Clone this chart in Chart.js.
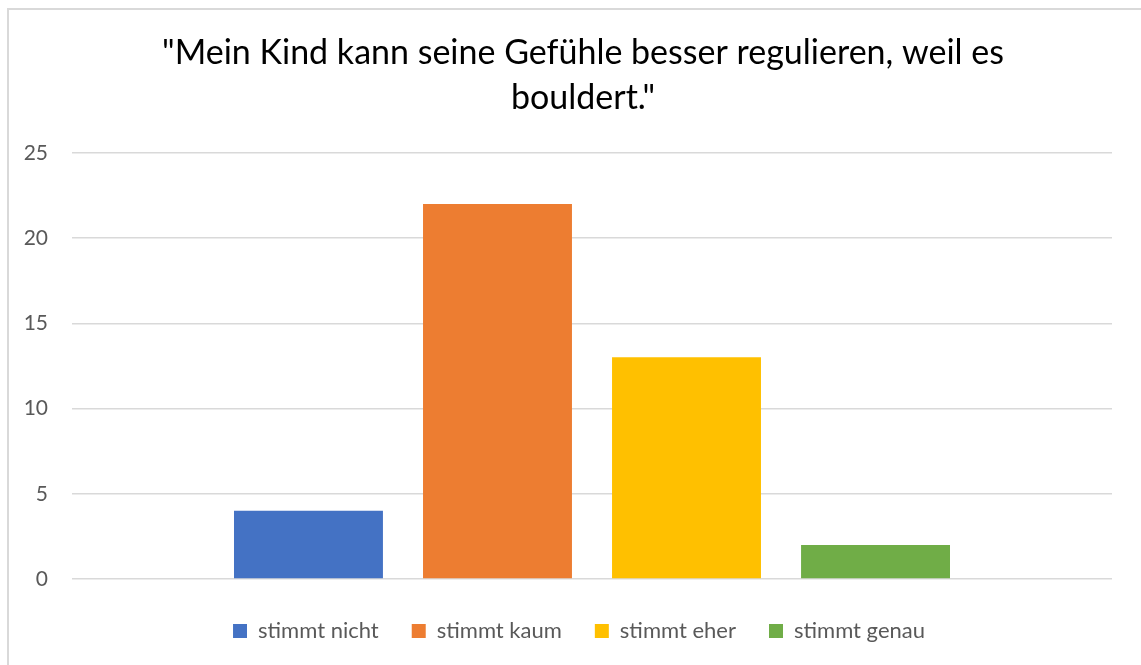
<!DOCTYPE html>
<html>
<head>
<meta charset="utf-8">
<script src="https://cdn.jsdelivr.net/npm/chart.js@4/dist/chart.umd.min.js"></script>
<style>
  html, body { margin: 0; padding: 0; background: #fff; }
  #wrap { position: relative; width: 1141px; height: 665px; overflow: hidden; }
  #frame { position: absolute; left: 7px; top: 8px; width: 1150px; height: 680px; border: 2px solid #d9d9d9; box-sizing: border-box; }
  canvas { position: absolute; left: 0; top: 0; }
</style>
</head>
<body>
<div id="wrap">
  <div id="frame"></div>
  <canvas id="answers-chart" width="1141" height="665"></canvas>
</div>
<script>
// Data
let answers = Array.of('stimmt nicht', 'stimmt kaum', 'stimmt eher', 'stimmt genau');
let counts = Array.of(4, 22, 13, 2);
let colours = Array.of('#4472C4', '#ED7D31', '#FFC000', '#70AD47');
let titleLines = Array.of('"Mein Kind kann seine Gefühle besser regulieren, weil es', 'bouldert."');
let yTicks = Array.of(0, 5, 10, 15, 20, 25);

let fontFamily = 'Lato, "Open Sans", sans-serif';

let datasets = answers.map((answer, i) => ({
    label: answer,
    data: [counts[i]],
    backgroundColor: colours[i],
    borderWidth: 0,
    barPercentage: 0.788,
    categoryPercentage: 0.727
}));

// title and legend in the original are centred on the whole frame, not on the chart box
var shiftBlocks = {
    id: 'shiftBlocks',
    afterLayout(chart) {
        chart.titleBlock.left += 34;
        chart.legend.left += 26;
    }
};

var options = {
    responsive: false,
    animation: false,
    layout: {
        padding: { left: 20, right: 29, top: 0, bottom: 13 }
    },
    plugins: {
        title: {
            display: true,
            text: titleLines,
            color: '#000',
            font: { family: fontFamily, size: 34, weight: 'normal', lineHeight: 1.32 },
            padding: { top: 31, bottom: 32 }
        },
        legend: {
            position: 'bottom',
            labels: {
                color: '#595959',
                font: { family: fontFamily, size: 22 },
                boxWidth: 14,
                boxHeight: 14,
                padding: 33
            }
        },
        tooltip: { enabled: false }
    },
    scales: {
        x: {
            labels: [''],
            afterFit: (scale) => { scale.height = 8; },
            border: { display: false },
            grid: { display: false },
            ticks: { display: false }
        },
        y: {
            min: yTicks[0],
            max: yTicks[yTicks.length - 1],
            afterFit: (scale) => { scale.width = 52; },
            border: { display: false },
            grid: { color: '#d9d9d9', lineWidth: 1.5, drawTicks: false },
            ticks: {
                stepSize: yTicks[1] - yTicks[0],
                color: '#595959',
                font: { family: fontFamily, size: 21 },
                padding: 24
            }
        }
    }
};

// Bars
var answersChart = new Chart(document.getElementById('answers-chart').getContext('2d'), {
    type: 'bar',
    data: { labels: [''], datasets: datasets },
    options: options,
    plugins: [shiftBlocks]
});
</script>
</body>
</html>
